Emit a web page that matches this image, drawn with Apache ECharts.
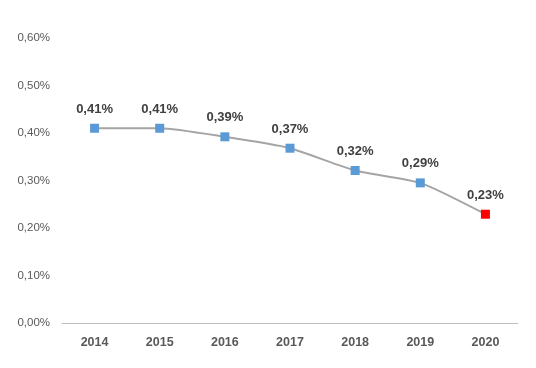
<!DOCTYPE html>
<html>
<head>
<meta charset="utf-8">
<script src="https://cdn.jsdelivr.net/npm/echarts@6/dist/echarts.min.js"></script>
<style>html,body{margin:0;padding:0;background:#fff;}#c{width:536px;height:368px;}</style>
</head>
<body>
<div id="c"></div>
<script>
const categories = ['2014','2015','2016','2017','2018','2019','2020'];
const values = [0.41, 0.41, 0.392, 0.368, 0.321, 0.295, 0.229];
const yTicks = [0, 0.1, 0.2, 0.3, 0.4, 0.5, 0.6];

const fmt = v => v.toFixed(2).replace('.', ',') + '%';
const chart = echarts.init(document.getElementById('c'));
const data = values.map((v, i) => i === values.length - 1
  ? { value: v, itemStyle: { color: '#ff0000' } }
  : { value: v });
chart.setOption({
  animation: false,
  grid: { left: 62, right: 18, top: 38, bottom: 45 },
  xAxis: {
    type: 'category',
    data: categories,
    boundaryGap: true,
    axisLine: { lineStyle: { color: '#bfbfbf', width: 1 } },
    axisTick: { show: false },
    axisLabel: { color: '#595959', fontWeight: 'bold', fontSize: 12.5, margin: 13, fontFamily: 'Liberation Sans' }
  },
  yAxis: {
    type: 'value',
    min: yTicks[0], max: yTicks[yTicks.length - 1], interval: 0.1,
    axisLine: { show: false },
    axisTick: { show: false },
    splitLine: { show: false },
    axisLabel: { color: '#595959', fontSize: 11.5, margin: 12, fontFamily: 'Liberation Sans', formatter: v => fmt(v) }
  },
  series: [{
    type: 'line',
    data: data,
    smooth: 0.2,
    symbol: 'rect',
    symbolSize: 9,
    lineStyle: { color: '#a5a5a5', width: 2 },
    itemStyle: { color: '#5b9bd5' },
    label: {
      show: true, position: 'top', distance: 8,
      color: '#404040', fontWeight: 'bold', fontSize: 13, fontFamily: 'Liberation Sans',
      formatter: p => fmt(p.value)
    }
  }]
});
</script>
</body>
</html>
